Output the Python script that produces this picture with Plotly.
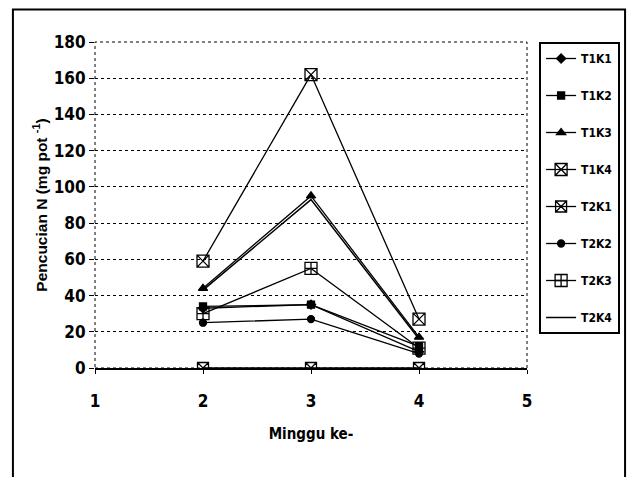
import plotly.graph_objects as go

weeks = [2, 3, 4]
series_names = ["T1K1", "T1K2", "T1K3", "T1K4", "T2K1", "T2K2", "T2K3", "T2K4"]
T1K1 = [33, 35, 9]
T1K2 = [34, 35, 12]
T1K3 = [44, 95, 17]
T1K4 = [59, 162, 27]
T2K1 = [0, 0, 0]
T2K2 = [25, 27, 8]
T2K3 = [30, 55, 11]
T2K4 = [43, 93, 16]
values = [T1K1, T1K2, T1K3, T1K4, T2K1, T2K2, T2K3, T2K4]

styles = [
    dict(symbol="diamond", size=7),
    dict(symbol="square", size=7),
    dict(symbol="triangle-up", size=8),
    dict(symbol="square-x-open", size=12),
    dict(symbol="square-x-open", size=11),
    dict(symbol="circle", size=7),
    dict(symbol="square-cross-open", size=12),
    None,
]

FONT = "DejaVu Sans Condensed, Liberation Sans Narrow, Arial Narrow, sans-serif"

fig = go.Figure()
for name, vals, st in zip(series_names, values, styles):
    if st is None:
        fig.add_trace(go.Scatter(x=weeks, y=vals, name=name, mode="lines", legendgroup=name,
                                 line=dict(color="black", width=1.5)))
    else:
        fig.add_trace(go.Scatter(x=weeks, y=vals, name=name, mode="lines+markers", legendgroup=name,
                                 line=dict(color="black", width=1.3),
                                 marker=dict(symbol=st["symbol"], size=st["size"], color="black",
                                             line=dict(color="black", width=1.3))))

fig.update_layout(
    width=629, height=477,
    margin=dict(l=95, r=102, t=42, b=109, autoexpand=False),
    paper_bgcolor="white", plot_bgcolor="white",
    font=dict(family=FONT, color="black", size=16),
    showlegend=True,
    legend=dict(x=1.028, y=1.0, xanchor="left", yanchor="top",
                bordercolor="black", borderwidth=2, bgcolor="white",
                font=dict(family=FONT, size=12, color="black", weight="bold"),
                tracegroupgap=18, itemwidth=30, maxheight=1),
    xaxis=dict(range=[1, 5], dtick=1, tick0=1, showgrid=False, zeroline=False,
               showline=True, linecolor="black", linewidth=1.5, automargin=False,
               ticks="outside", ticklen=4, tickcolor="black",
               ticklabelstandoff=13,
               tickfont=dict(family=FONT, size=17, color="black", weight="bold"),
               title=dict(text="<b>Minggu ke-</b>", standoff=18,
                          font=dict(family=FONT, size=15, color="black"))),
    yaxis=dict(range=[0, 180], dtick=20, showgrid=True, gridcolor="black",
               griddash="dot", gridwidth=1, zeroline=False, showline=False, automargin=False,
               ticks="outside", ticklen=5, tickcolor="black",
               tickfont=dict(family=FONT, size=17, color="black", weight="bold"),
               title=dict(text="<b>Pencucian N (mg pot <sup>-1</sup>)</b>", standoff=2,
                          font=dict(family="Liberation Sans, Arial, sans-serif", size=15.5, color="black"))),
    shapes=[
        dict(type="rect", xref="paper", yref="paper", x0=0, x1=1, y0=0, y1=1,
             line=dict(color="black", width=1, dash="dot"), layer="below"),
        dict(type="rect", xref="paper", yref="paper", x0=-0.19, x1=1.227, y0=-0.40, y1=1.10,
             line=dict(color="black", width=2)),
    ],
)

fig.write_html("out.html", config={"displayModeBar": False},
               post_script="document.body.style.margin='0';document.body.style.overflow='hidden';")
